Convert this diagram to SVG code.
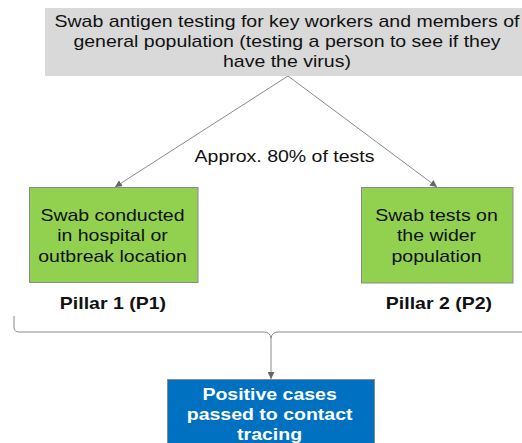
<svg xmlns="http://www.w3.org/2000/svg" width="522" height="443" viewBox="0 0 522 443">
<defs>
<style>
.t{font-family:"Liberation Sans",Arial,sans-serif;font-size:16px;fill:#111;text-anchor:middle}
.b{font-weight:bold}
.w{fill:#fff}
.ln{stroke:#8a8a8a;stroke-width:1;fill:none}
</style>
<marker id="ah" viewBox="0 0 10 10" refX="10" refY="5" markerWidth="7" markerHeight="7" orient="auto-start-reverse" markerUnits="userSpaceOnUse">
<path d="M0,0 L10,5 L0,10 z" fill="#666"/>
</marker>
</defs>
<rect width="522" height="443" fill="#fff"/>
<g id="connectors">
<line class="ln" x1="288" y1="76" x2="115" y2="187" marker-end="url(#ah)"/>
<line class="ln" x1="288" y1="76" x2="437" y2="187" marker-end="url(#ah)"/>
<path class="ln" d="M14,316 L14,327 Q14,332 19,332 L264,332 Q270,332 271,338 Q272,332 278,332 L530,332"/>
<line class="ln" x1="271" y1="337" x2="271" y2="379" marker-end="url(#ah)"/>
<g transform="scale(1.22 1)">
<text class="t" x="233.2" y="162">Approx. 80% of tests</text>
</g>
</g>
<g id="top">
<rect x="45" y="8" width="485" height="68" fill="#d9d9d9"/>
<g transform="scale(1.22 1)">
<text class="t" x="235.2" y="27">Swab antigen testing for key workers and members of</text>
<text class="t" x="235.2" y="47">general population (testing a person to see if they</text>
<text class="t" x="235.2" y="67.5">have the virus)</text>
</g>
</g>
<g id="p1">
<rect x="29.5" y="187.5" width="168.5" height="95" fill="#92d050" stroke="#8a8a8a"/>
<g transform="scale(1.22 1)">
<text class="t" x="92.2" y="221">Swab conducted</text>
<text class="t" x="92.2" y="241.5">in hospital or</text>
<text class="t" x="92.2" y="262">outbreak location</text>
</g>
</g>
<g id="p2">
<rect x="361.5" y="187.5" width="151.5" height="95.5" fill="#92d050" stroke="#8a8a8a"/>
<g transform="scale(1.22 1)">
<text class="t" x="357.8" y="221">Swab tests on</text>
<text class="t" x="357.8" y="241.5">the wider</text>
<text class="t" x="357.8" y="262">population</text>
</g>
</g>
<g id="label1">
<g transform="scale(1.22 1)"><text class="t b" x="92.6" y="309">Pillar 1 (P1)</text></g>
</g>
<g id="label2">
<g transform="scale(1.22 1)"><text class="t b" x="359.8" y="309">Pillar 2 (P2)</text></g>
</g>
<g id="result">
<rect x="167.5" y="379.5" width="207" height="70" fill="#0070c0" stroke="#8a8a8a"/>
<g transform="scale(1.22 1)">
<text class="t b w" x="221" y="400">Positive cases</text>
<text class="t b w" x="221" y="420">passed to contact</text>
<text class="t b w" x="221" y="440">tracing</text>
</g>
</g>
</svg>
